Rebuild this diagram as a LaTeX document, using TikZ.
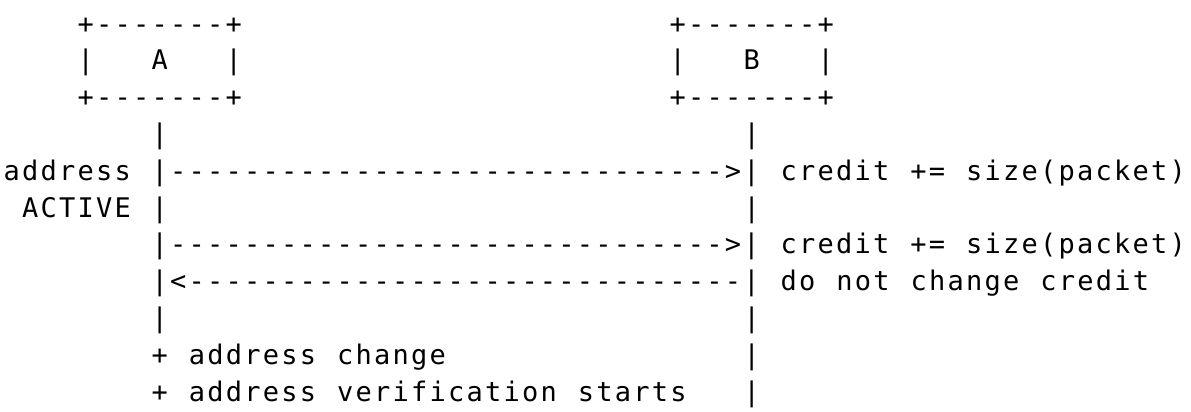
\documentclass[tikz,border=0pt]{standalone}
\usepackage{fontspec}
\newfontfamily\artfont{DejaVu Sans Mono}[Ligatures=TeXOff,LetterSpace=8.3,WordSpace={1.138,0,0}]
\tikzset{art/.style={font=\artfont\fontsize{27}{36.8}\selectfont,inner sep=0pt,anchor=base west}}

\begin{document}
\begin{tikzpicture}[x=18.5pt,y=-36.8pt]
  \useasboundingbox (-0.184,-0.897) rectangle (64.195,10.272);

  % the two boxes
  \node[art] (Atop) at (4,0) {+-------+};
  \node[art] (Aleft) at (4,1) {|};
  \node[art] (Aname) at (8,1) {A};
  \node[art] (Aright) at (12,1) {|};
  \node[art] (Abot) at (4,2) {+-------+};

  \node[art] (Btop) at (36,0) {+-------+};
  \node[art] (Bleft) at (36,1) {|};
  \node[art] (Bname) at (40,1) {B};
  \node[art] (Bright) at (44,1) {|};
  \node[art] (Bbot) at (36,2) {+-------+};

  % life lines
  \node[art] (Aline3) at (8,3) {|};
  \node[art] (Bline3) at (40,3) {|};
  \node[art] (Aline5) at (8,5) {|};
  \node[art] (Bline5) at (40,5) {|};
  \node[art] (Aline8) at (8,8) {|};
  \node[art] (Bline8) at (40,8) {|};
  \node[art] (Bline9) at (40,9) {|};
  \node[art] (Bline10) at (40,10) {|};

  % messages
  \node[art] (addr) at (0,4) {address};
  \node[art] (active) at (1,5) {ACTIVE};
  \node[art] (msg1) at (8,4) {|------------------------------>|};
  \node[art] (msg2) at (8,6) {|------------------------------>|};
  \node[art] (msg3) at (8,7) {|<------------------------------|};
  \node[art] (credit1) at (42,4) {credit += size(packet)};
  \node[art] (credit2) at (42,6) {credit += size(packet)};
  \node[art] (nochange) at (42,7) {do not change credit};

  % events on A
  \node[art] (change) at (8,9) {+ address change};
  \node[art] (verify) at (8,10) {+ address verification starts};
\end{tikzpicture}
\end{document}
